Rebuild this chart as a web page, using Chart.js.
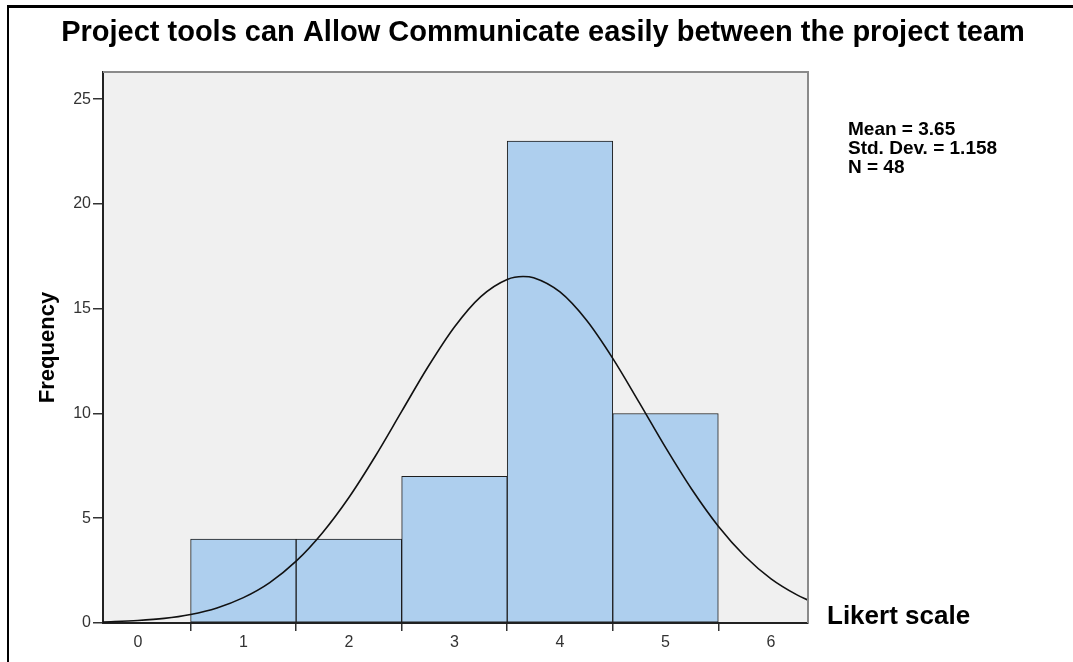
<!DOCTYPE html>
<html>
<head>
<meta charset="utf-8">
<title>Histogram</title>
<script src="https://cdn.jsdelivr.net/npm/chart.js@4.4.1/dist/chart.umd.min.js"></script>
<style>
  html, body { margin: 0; padding: 0; background: #fff; }
  #wrap { position: relative; width: 1073px; height: 662px; overflow: hidden; }
</style>
</head>
<body>
<div id="wrap">
  <canvas id="grafico" width="1073" height="662"></canvas>
</div>
<script>
// Histogram bins (Likert scale answers) and their frequencies
const classes = [1, 2, 3, 4, 5];
const frequencias = [4, 4, 7, 23, 10];

// Normal curve read along the x axis
const curvaX = [-0.33, 0, 0.25, 0.5, 0.75, 1, 1.25, 1.5, 1.75, 2, 2.25, 2.5, 2.75, 3, 3.25, 3.5, 3.65, 3.75, 4, 4.25, 4.5, 4.75, 5, 5.25, 5.5, 5.75, 6, 6.25, 6.35];
const curvaY = [0.05, 0.12, 0.22, 0.41, 0.72, 1.21, 1.93, 2.95, 4.31, 5.99, 7.96, 10.10, 12.23, 14.13, 15.58, 16.40, 16.54, 16.48, 15.80, 14.46, 12.63, 10.53, 8.38, 6.37, 4.62, 3.20, 2.11, 1.33, 1.09];

// Axis ticks
const ticksX = [0, 1, 2, 3, 4, 5, 6];
const ticksY = [0, 5, 10, 15, 20, 25];

const titulo = 'Project tools can Allow Communicate easily between the project team';
const estatisticas = ['Mean = 3.65', 'Std. Dev. = 1.158', 'N = 48'];
const rotuloX = 'Likert scale';
const rotuloY = 'Frequency';

const fonte = "'Liberation Sans', Arial, sans-serif";

// Grey plot background, grey top/right frame, outer black frame and the free texts
const molduraPlugin = {
    id: 'moldura',
    beforeDraw(chart) {
        const { ctx, chartArea: a } = chart;
        ctx.save();
        ctx.fillStyle = '#ffffff';
        ctx.fillRect(0, 0, chart.width, chart.height);
        ctx.fillStyle = '#000000';
        ctx.fillRect(7, 5, chart.width - 7, 3);
        ctx.fillRect(7, 5, 2, chart.height - 5);
        ctx.fillStyle = '#f0f0f0';
        ctx.fillRect(a.left, a.top, a.right - a.left, a.bottom - a.top);
        ctx.restore();
    },
    afterDraw(chart) {
        const { ctx, chartArea: a } = chart;
        ctx.save();
        ctx.strokeStyle = '#8a8a8a';
        ctx.lineWidth = 2;
        ctx.beginPath();
        ctx.moveTo(a.left, a.top);
        ctx.lineTo(a.right, a.top);
        ctx.lineTo(a.right, a.bottom);
        ctx.stroke();

        ctx.fillStyle = '#000000';
        ctx.textBaseline = 'alphabetic';

        // titulo centrado na imagem toda
        ctx.textAlign = 'center';
        ctx.font = 'bold 29px ' + fonte;
        ctx.fillText(titulo, 543, 41);

        ctx.textAlign = 'left';
        ctx.font = 'bold 19px ' + fonte;
        estatisticas.forEach((linha, i) => {
            ctx.fillText(linha, a.right + 40, 135 + i * 19);
        });
        ctx.font = 'bold 26px ' + fonte;
        ctx.fillText(rotuloX, a.right + 19, 624);
        ctx.restore();
    }
};

const ctx = document.getElementById('grafico').getContext('2d');

new Chart(ctx, {
    type: 'bar',
    data: {
        datasets: [{
            type: 'line',
            data: curvaX.map((x, i) => ({ x: x, y: curvaY[i] })),
            borderColor: '#111111',
            borderWidth: 1.6,
            pointRadius: 0,
            fill: false,
            cubicInterpolationMode: 'monotone'
        }, {
            type: 'bar',
            data: classes.map((c, i) => ({ x: c, y: frequencias[i] })),
            backgroundColor: '#aecfee',
            borderColor: '#1e1e1e',
            borderWidth: 1,
            borderSkipped: false,
            barPercentage: 1,
            categoryPercentage: 1
        }]
    },
    options: {
        responsive: false,
        animation: false,
        layout: { padding: { left: 0, right: 265, top: 72, bottom: 0 } },
        plugins: {
            legend: { display: false },
            tooltip: { enabled: false },
            title: { display: false }
        },
        scales: {
            x: {
                type: 'linear',
                min: -0.33,
                max: 6.35,
                offset: false,
                afterFit: (s) => { s.height = 39; },
                afterBuildTicks: (s) => { s.ticks = ticksX.map(v => ({ value: v })); },
                border: { display: true, color: '#222222', width: 2 },
                grid: { display: true, drawOnChartArea: false, drawTicks: true, tickLength: 8, color: '#333333', lineWidth: 1.5 },
                ticks: { color: '#333333', padding: 2, font: { family: fonte, size: 16 }, maxRotation: 0 }
            },
            y: {
                min: 0,
                max: 26.3,
                afterFit: (s) => { s.width = 103; },
                afterBuildTicks: (s) => { s.ticks = ticksY.map(v => ({ value: v })); },
                border: { display: true, color: '#222222', width: 2 },
                grid: { display: true, drawOnChartArea: false, drawTicks: true, tickLength: 10, color: '#333333', lineWidth: 1.5 },
                ticks: { color: '#333333', padding: 2, font: { family: fonte, size: 16 } },
                title: {
                    display: true,
                    text: rotuloY,
                    color: '#000000',
                    font: { family: fonte, size: 22, weight: 'bold', lineHeight: 1.2 },
                    padding: { top: 35, bottom: 0 }
                }
            }
        }
    },
    plugins: [molduraPlugin]
});
</script>
</body>
</html>
